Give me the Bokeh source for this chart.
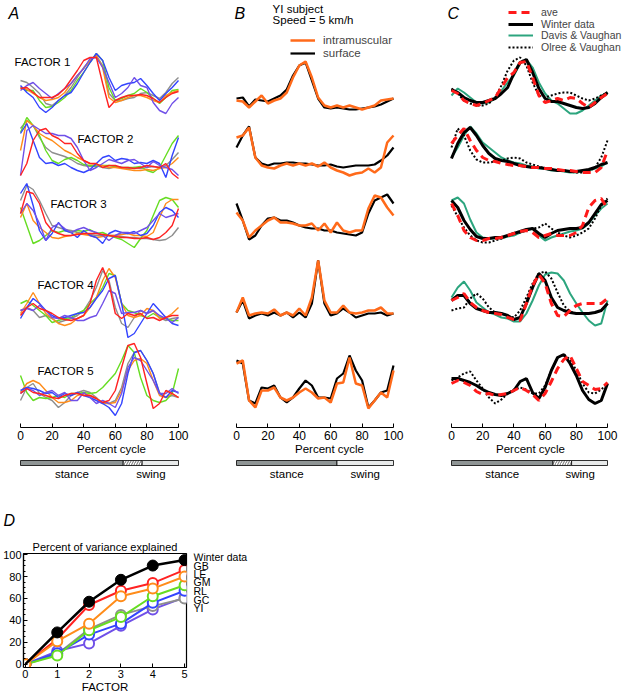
from bokeh.plotting import figure
from bokeh.layouts import row, column
from bokeh.models import Range1d, Label, Legend, LegendItem, FixedTicker, ColumnDataSource
from bokeh.embed import file_html
from bokeh.resources import INLINE

FONT = "Liberation Sans"

# ---------------- data ----------------
PCT = [0, 4, 8, 12, 16, 20, 24, 28, 32, 36, 40, 44, 48, 52, 56, 60, 64, 68, 72, 76, 80, 84, 88, 92, 96, 100]
PCT_TICKS = [0, 20, 40, 60, 80, 100]
SUBJECTS = ["GC", "GM", "LE", "RL", "YI", "GB"]

# Panel A: individual subjects (activation, arbitrary height units)
A_FACTOR1 = {
    "GB": [337, 338, 333, 328, 328, 328, 331, 337, 346, 355, 365, 368, 368, 342, 318, 325, 328, 330, 330, 331, 330, 327, 323, 328, 332, 334],
    "LE": [338, 336, 332, 328, 325, 326, 328, 333, 342, 350, 357, 365, 370, 358, 328, 323, 325, 328, 330, 330, 328, 325, 323, 330, 333, 335],
    "GM": [338, 335, 335, 325, 318, 319, 323, 328, 335, 345, 353, 363, 372, 365, 338, 325, 327, 330, 332, 337, 333, 327, 322, 328, 335, 336],
    "GC": [345, 343, 338, 332, 322, 320, 325, 330, 338, 348, 358, 365, 370, 360, 332, 325, 325, 327, 328, 332, 333, 330, 327, 333, 342, 348],
    "RL": [340, 333, 328, 318, 313, 318, 325, 330, 333, 342, 353, 363, 372, 365, 348, 335, 340, 342, 343, 347, 340, 332, 325, 332, 338, 345],
    "YI": [335, 340, 343, 337, 332, 327, 332, 337, 342, 350, 357, 367, 368, 358, 343, 328, 332, 338, 348, 340, 338, 323, 315, 312, 322, 328],
}
A_FACTOR2 = {
    "GB": [250, 262, 285, 295, 297, 290, 287, 282, 282, 272, 265, 262, 262, 258, 260, 260, 258, 258, 257, 258, 260, 259, 258, 262, 252, 247],
    "LE": [275, 305, 300, 292, 288, 285, 280, 275, 272, 268, 265, 262, 261, 260, 258, 258, 257, 256, 255, 255, 256, 255, 257, 258, 262, 268],
    "GM": [293, 308, 300, 290, 275, 265, 262, 266, 268, 265, 261, 260, 259, 260, 260, 259, 258, 258, 258, 259, 255, 253, 258, 270, 282, 290],
    "GC": [297, 305, 300, 288, 278, 273, 271, 269, 266, 262, 260, 259, 260, 258, 257, 259, 258, 257, 258, 257, 258, 259, 258, 260, 266, 273],
    "RL": [292, 302, 285, 268, 262, 263, 260, 262, 258, 255, 253, 256, 262, 268, 270, 265, 267, 266, 262, 263, 262, 265, 262, 248, 270, 288],
    "YI": [250, 295, 300, 296, 292, 292, 290, 290, 287, 278, 265, 255, 258, 262, 266, 264, 262, 265, 266, 262, 258, 264, 260, 258, 256, 250],
}
A_FACTOR3 = {
    "GB": [212, 234, 232, 222, 203, 195, 192, 190, 190, 191, 192, 192, 192, 191, 190, 189, 188, 188, 187, 187, 188, 186, 188, 193, 200, 217],
    "LE": [208, 222, 205, 198, 193, 188, 187, 189, 190, 192, 191, 190, 188, 189, 190, 190, 191, 192, 190, 190, 189, 193, 208, 222, 226, 226],
    "GM": [218, 200, 182, 185, 190, 195, 193, 195, 193, 195, 194, 196, 192, 193, 190, 188, 186, 182, 178, 187, 195, 210, 225, 228, 226, 218],
    "GC": [225, 240, 236, 225, 212, 200, 198, 196, 195, 193, 192, 191, 190, 190, 190, 190, 189, 188, 188, 187, 187, 186, 185, 186, 190, 198],
    "RL": [232, 242, 220, 195, 185, 192, 203, 195, 193, 188, 195, 190, 188, 182, 192, 195, 193, 192, 194, 190, 192, 200, 213, 218, 215, 208],
    "YI": [212, 222, 215, 202, 185, 198, 202, 197, 193, 196, 198, 195, 193, 190, 185, 190, 193, 193, 192, 195, 198, 205, 212, 208, 210, 212],
}
A_FACTOR4 = {
    "GB": [110, 118, 122, 117, 115, 112, 108, 106, 105, 107, 110, 122, 145, 158, 142, 112, 107, 112, 110, 112, 107, 108, 105, 108, 110, 110],
    "LE": [112, 122, 133, 122, 112, 107, 102, 100, 102, 107, 110, 118, 128, 145, 157, 148, 122, 110, 108, 110, 117, 115, 107, 108, 112, 118],
    "GM": [122, 125, 120, 115, 110, 103, 105, 107, 108, 112, 115, 122, 128, 138, 152, 150, 122, 115, 113, 110, 108, 112, 108, 107, 105, 105],
    "GC": [115, 118, 115, 108, 110, 107, 103, 105, 107, 110, 115, 125, 138, 155, 145, 118, 102, 98, 108, 115, 112, 115, 108, 105, 107, 108],
    "RL": [107, 118, 127, 122, 115, 110, 107, 108, 110, 112, 113, 118, 127, 135, 147, 150, 122, 88, 92, 102, 112, 122, 115, 108, 102, 100],
    "YI": [115, 117, 115, 120, 115, 108, 107, 110, 108, 105, 105, 108, 110, 122, 135, 132, 112, 113, 113, 115, 112, 115, 110, 107, 103, 108],
}
A_FACTOR5 = {
    "GB": [32, 37, 33, 32, 30, 28, 27, 30, 32, 32, 30, 30, 27, 23, 25, 35, 58, 80, 82, 68, 42, 17, 22, 35, 32, 28],
    "LE": [33, 42, 45, 42, 35, 28, 23, 23, 25, 30, 32, 30, 27, 23, 22, 23, 35, 55, 65, 67, 62, 45, 30, 28, 32, 28],
    "GM": [50, 33, 25, 28, 27, 28, 30, 28, 32, 32, 33, 32, 33, 38, 45, 52, 65, 80, 73, 48, 30, 25, 23, 25, 32, 57],
    "GC": [25, 38, 42, 32, 28, 25, 18, 23, 30, 33, 35, 33, 28, 22, 22, 25, 38, 62, 73, 75, 65, 52, 33, 28, 30, 28],
    "RL": [35, 38, 37, 35, 32, 33, 28, 32, 30, 33, 30, 28, 25, 22, 18, 10, 22, 52, 73, 75, 65, 52, 32, 28, 35, 33],
    "YI": [32, 37, 35, 30, 33, 35, 30, 33, 25, 25, 33, 28, 22, 25, 22, 18, 32, 58, 68, 65, 55, 45, 32, 32, 37, 32],
}

# Panel B: YI subject, intramuscular vs surface
B_FACTOR1 = {
    "surface":       [327, 328, 319, 326, 325, 324, 327, 330, 336, 350, 360, 363, 345, 327, 318, 317, 318, 317, 316, 316, 317, 318, 319, 321, 324, 327],
    "intramuscular": [325, 324, 318, 324, 330, 322, 325, 327, 333, 348, 360, 364, 348, 328, 320, 318, 320, 318, 320, 318, 316, 318, 320, 325, 326, 327],
}
B_FACTOR2 = {
    "surface":       [278, 290, 299, 268, 262, 260, 262, 262, 263, 263, 262, 262, 261, 260, 260, 261, 259, 258, 259, 260, 260, 260, 261, 265, 270, 278],
    "intramuscular": [288, 290, 298, 268, 260, 258, 257, 260, 262, 260, 262, 260, 262, 259, 263, 258, 255, 253, 250, 252, 253, 257, 253, 258, 283, 290],
}
B_FACTOR3 = {
    "surface":       [222, 205, 186, 190, 200, 207, 208, 205, 205, 203, 200, 198, 197, 197, 195, 195, 193, 192, 191, 190, 193, 212, 225, 228, 231, 222],
    "intramuscular": [213, 205, 188, 195, 200, 205, 208, 203, 203, 202, 200, 200, 202, 195, 202, 193, 203, 195, 193, 195, 195, 217, 230, 228, 218, 210],
}
B_FACTOR4 = {
    "surface":       [113, 125, 107, 110, 112, 110, 113, 110, 113, 108, 113, 108, 122, 165, 122, 110, 112, 117, 113, 108, 110, 112, 112, 113, 110, 112],
    "intramuscular": [113, 128, 110, 112, 113, 112, 116, 110, 113, 110, 117, 110, 128, 165, 125, 113, 113, 120, 113, 112, 113, 115, 115, 118, 112, 112],
}
B_FACTOR5 = {
    "surface":       [65, 62, 25, 22, 38, 37, 40, 28, 23, 28, 37, 45, 40, 28, 28, 27, 47, 52, 70, 55, 45, 18, 25, 33, 35, 60],
    "intramuscular": [62, 65, 25, 18, 35, 35, 38, 28, 25, 28, 33, 37, 33, 27, 28, 23, 42, 43, 68, 42, 40, 17, 25, 33, 28, 55],
}

# Panel C: average vs literature
C_FACTOR1 = {
    "ave":             [335, 332, 325, 322, 320, 322, 325, 328, 338, 348, 353, 363, 364, 348, 330, 323, 325, 327, 325, 328, 327, 322, 318, 323, 328, 332],
    "Winter data":     [336, 333, 328, 325, 323, 323, 325, 327, 332, 338, 352, 363, 366, 353, 337, 327, 324, 324, 322, 320, 318, 317, 318, 322, 328, 333],
    "Davis & Vaughan": [330, 337, 333, 328, 323, 322, 323, 327, 335, 343, 350, 362, 366, 358, 343, 332, 325, 322, 317, 312, 312, 315, 320, 325, 330, 332],
    "Olree & Vaughan": [337, 332, 325, 322, 320, 320, 322, 328, 340, 355, 365, 368, 360, 343, 330, 328, 330, 332, 333, 333, 330, 327, 325, 327, 330, 333],
}
C_FACTOR2 = {
    "ave":             [282, 290, 297, 285, 275, 268, 265, 264, 262, 261, 260, 260, 259, 258, 258, 257, 257, 256, 255, 255, 254, 253, 253, 253, 258, 275],
    "Winter data":     [267, 282, 293, 298, 290, 280, 272, 267, 265, 264, 262, 260, 259, 258, 258, 257, 256, 255, 255, 254, 254, 255, 256, 258, 261, 263],
    "Davis & Vaughan": [268, 278, 290, 299, 292, 283, 278, 273, 268, 265, 263, 262, 260, 259, 257, 257, 255, 255, 254, 253, 253, 254, 255, 257, 259, 263],
    "Olree & Vaughan": [278, 297, 290, 275, 266, 263, 263, 264, 265, 267, 268, 267, 263, 261, 259, 257, 256, 255, 255, 254, 253, 253, 254, 258, 268, 285],
}
C_FACTOR3 = {
    "ave":             [222, 210, 195, 188, 185, 185, 187, 187, 188, 190, 192, 194, 195, 193, 188, 190, 192, 190, 190, 190, 193, 200, 218, 225, 227, 217],
    "Winter data":     [225, 218, 205, 196, 189, 187, 187, 188, 188, 190, 192, 194, 196, 197, 192, 188, 192, 195, 196, 197, 197, 198, 203, 212, 221, 225],
    "Davis & Vaughan": [225, 228, 222, 206, 193, 188, 187, 187, 187, 189, 190, 193, 195, 197, 190, 185, 188, 190, 192, 194, 195, 197, 202, 210, 217, 222],
    "Olree & Vaughan": [220, 209, 198, 190, 185, 183, 183, 185, 187, 190, 192, 193, 195, 197, 198, 202, 197, 193, 190, 188, 190, 193, 197, 207, 220, 227],
}
C_FACTOR4 = {
    "ave":             [125, 128, 132, 123, 118, 115, 113, 112, 111, 108, 106, 105, 122, 140, 151, 142, 122, 110, 109, 115, 120, 122, 122, 122, 122, 127],
    "Winter data":     [125, 130, 130, 122, 117, 115, 113, 113, 112, 110, 106, 108, 122, 138, 152, 145, 128, 118, 115, 113, 112, 112, 112, 113, 115, 122],
    "Davis & Vaughan": [128, 138, 144, 135, 123, 118, 113, 111, 108, 107, 104, 104, 112, 125, 140, 151, 153, 152, 145, 132, 122, 113, 105, 100, 102, 125],
    "Olree & Vaughan": [115, 117, 118, 127, 132, 127, 118, 113, 112, 110, 108, 115, 128, 142, 152, 154, 147, 133, 120, 114, 112, 112, 112, 113, 115, 122],
}
C_FACTOR5 = {
    "ave":             [42, 45, 43, 40, 34, 31, 32, 30, 31, 32, 35, 38, 35, 31, 25, 32, 44, 57, 66, 70, 57, 44, 40, 36, 37, 43],
    "Winter data":     [47, 47, 45, 43, 40, 36, 33, 31, 30, 32, 35, 44, 47, 33, 27, 38, 55, 68, 71, 62, 50, 35, 26, 22, 25, 42],
    "Olree & Vaughan": [45, 48, 52, 54, 45, 37, 28, 22, 26, 32, 36, 38, 36, 32, 32, 40, 55, 68, 71, 66, 55, 42, 33, 32, 36, 42],
}

FACTOR_NAMES = ["FACTOR 1", "FACTOR 2", "FACTOR 3", "FACTOR 4", "FACTOR 5"]

# gait phases (percent cycle)
PHASES_AC = [0, 65, 77, 100]
PHASE_KINDS_AC = ["stance", "transition", "swing"]
PHASES_B = [0, 64, 100]
PHASE_KINDS_B = ["stance", "swing"]

# Panel D: percent of variance explained
FACTORS = [0, 1, 2, 3, 4, 5]
VAR_WINTER = [0, 29, 57, 77, 90, 95]
VAR_GB = [0, 23, 54, 67, 74, 86]
VAR_LE = [0, 21, 37, 62, 69, 80]
VAR_GM = [0, 8, 31, 43, 62, 72]
VAR_RL = [0, 10, 27, 37, 56, 67]
VAR_GC = [0, 9, 32, 45, 53, 60]
VAR_YI = [0, 12, 19, 35, 50, 61]
D_LABELS = ["Winter data", "GB", "LE", "GM", "RL", "GC", "YI"]

# ---------------- styles / geometry ----------------
SUBJ_COLORS = {"GB": "#ff2222", "LE": "#ff8c1a", "GM": "#66dd22", "GC": "#8e8e8e",
               "RL": "#3344ff", "YI": "#7050e8"}
B_STYLE = {"surface": dict(line_color="black", line_width=2.2),
           "intramuscular": dict(line_color="#ff6a1a", line_width=2.5)}
C_STYLE = {"Davis & Vaughan": dict(line_color="#2ca57e", line_width=2),
           "Olree & Vaughan": dict(line_color="black", line_width=2, line_dash="2 2"),
           "Winter data": dict(line_color="black", line_width=3),
           "ave": dict(line_color="#ff1a1a", line_width=3, line_dash="8 5")}
PHASE_COLORS = {"stance": "#8f9595", "transition": "white", "swing": "#e8eaea"}
PHASE_HATCH = {"stance": " ", "transition": "/", "swing": " "}

# column widths and the pixel gaps left/right of the 0-100 % axis
COLS = {"A": (222, 20, 44), "B": (214, 14, 43), "C": (188, 15, 17)}
CURVE_H = 422          # height of the curve canvas
Y_TOP = 425            # activation value at the top edge of the curve canvas
AXIS_H, AXIS_BOTTOM = 36, 31
BAR_H = 22


def x_range_for(key):
    w, l, r = COLS[key]
    fw = w - l - r
    return Range1d(-l * 100.0 / fw, 100 + r * 100.0 / fw)


XR = {k: x_range_for(k) for k in COLS}


def clean(p):
    p.xgrid.visible = False
    p.ygrid.visible = False
    p.outline_line_color = None
    p.background_fill_color = "white"
    p.border_fill_color = "white"
    return p


def label(p, x, y, text, size="11px", style="normal", align="left"):
    p.add_layout(Label(x=x, y=y, text=text, text_font=FONT, text_font_size=size,
                       text_font_style=style, text_align=align, text_baseline="middle",
                       text_color="black"))


def bare_fig(key, height, y_range, **kw):
    w = COLS[key][0]
    opts = dict(min_border_left=0, min_border_right=0, min_border_top=0, min_border_bottom=0)
    opts.update(kw)
    p = figure(width=w, height=height, x_range=XR[key], y_range=y_range,
               y_axis_type=None, output_backend="svg", toolbar_location=None, **opts)
    return clean(p)


def curve_fig(key):
    p = bare_fig(key, CURVE_H, Range1d(Y_TOP - CURVE_H, Y_TOP))
    p.xaxis.visible = False
    return p


def axis_fig(key):
    p = bare_fig(key, AXIS_H, Range1d(0, 1), min_border_bottom=AXIS_BOTTOM)
    ax = p.xaxis[0]
    ax.bounds = (0, 100)
    ax.ticker = FixedTicker(ticks=PCT_TICKS)
    ax.minor_tick_line_color = None
    ax.major_tick_in = 4
    ax.major_tick_out = 0
    ax.major_label_standoff = 3
    ax.major_label_text_font = FONT
    ax.major_label_text_font_size = "12px"
    ax.major_label_text_color = "black"
    ax.axis_label = "Percent cycle"
    ax.axis_label_standoff = 0
    ax.axis_label_text_font = FONT
    ax.axis_label_text_font_size = "11.5px"
    ax.axis_label_text_font_style = "normal"
    ax.axis_label_text_color = "black"
    return p


def phase_fig(key, edges, kinds):
    p = bare_fig(key, BAR_H, Range1d(-3, 1.4))
    p.xaxis.visible = False
    src = ColumnDataSource(dict(left=edges[:-1], right=edges[1:],
                                fill=[PHASE_COLORS[k] for k in kinds],
                                hatch=[PHASE_HATCH[k] for k in kinds]))
    p.quad(left="left", right="right", bottom=0, top=1, source=src, fill_color="fill",
           line_color="black", line_width=0.8, hatch_pattern="hatch", hatch_color="#8a8a8a",
           hatch_scale=5, hatch_weight=1.2)
    label(p, (edges[0] + edges[1]) / 2, -1.6, "stance", size="11.5px", align="center")
    label(p, (edges[1] + edges[-1]) / 2, -1.6, "swing", size="11.5px", align="center")
    return p


def legend_row(p, renderer, text, x, y_center, glyph_h, size):
    # one legend entry per row so that rows sit as in the original figure
    leg = Legend(items=[LegendItem(label=text, renderers=[renderer])],
                 location=(x, CURVE_H - (y_center + 7)), padding=0, spacing=0, margin=0,
                 border_line_color=None, background_fill_alpha=0, glyph_width=25,
                 glyph_height=glyph_h, label_height=glyph_h, label_standoff=8,
                 label_text_font=FONT, label_text_font_size=size)
    p.add_layout(leg)


# ---------------- panel A ----------------
pA = curve_fig("A")
for fac in [A_FACTOR1, A_FACTOR2, A_FACTOR3, A_FACTOR4, A_FACTOR5]:
    for s in SUBJECTS:
        pA.line(PCT, fac[s], line_color=SUBJ_COLORS[s], line_width=1.4)
label(pA, -7.6, 412, "A", size="16px", style="italic")
for name, (x, y) in zip(FACTOR_NAMES, [(-3.8, 364), (36, 287), (19, 222), (10.8, 141), (10.8, 55)]):
    label(pA, x, y, name, size="11.5px")

# ---------------- panel B ----------------
pB = curve_fig("B")
b_items = {}
for fac in [B_FACTOR1, B_FACTOR2, B_FACTOR3, B_FACTOR4, B_FACTOR5]:
    for k in ["surface", "intramuscular"]:
        r = pB.line(PCT, fac[k], **B_STYLE[k])
        b_items.setdefault(k, r)
label(pB, -1.3, 412, "B", size="16px", style="italic")
label(pB, 23, 417, "YI subject", size="11.5px")
label(pB, 23, 406, "Speed = 5 km/h", size="11.5px")
legend_row(pB, b_items["intramuscular"], "intramuscular", 68, 39, 12, "11.5px")
legend_row(pB, b_items["surface"], "surface", 68, 52, 12, "11.5px")

# ---------------- panel C ----------------
pC = curve_fig("C")
c_items = {}
for fac in [C_FACTOR1, C_FACTOR2, C_FACTOR3, C_FACTOR4, C_FACTOR5]:
    for k in ["Davis & Vaughan", "Olree & Vaughan", "Winter data", "ave"]:
        if k in fac:
            r = pC.line(PCT, fac[k], **C_STYLE[k])
            c_items.setdefault(k, r)
label(pC, -2.6, 412, "C", size="16px", style="italic")
for k, yc in zip(["ave", "Winter data", "Davis & Vaughan", "Olree & Vaughan"], [11, 22.5, 34, 45.5]):
    legend_row(pC, c_items[k], k, 72, yc, 10, "10.5px")

colA = column(pA, axis_fig("A"), phase_fig("A", PHASES_AC, PHASE_KINDS_AC))
colB = column(pB, axis_fig("B"), phase_fig("B", PHASES_B, PHASE_KINDS_B))
colC = column(pC, axis_fig("C"), phase_fig("C", PHASES_AC, PHASE_KINDS_AC))

# ---------------- panel D ----------------
D_W, D_H = 192, 159
D_TOP, D_BOTTOM, D_LEFT, D_RIGHT = 17, 28, 21, 6
pD = figure(width=D_W, height=D_H, x_range=Range1d(-0.06, 5.06), y_range=Range1d(-3, 101),
            output_backend="svg", toolbar_location=None, title="Percent of variance explained",
            min_border_left=D_LEFT, min_border_right=D_RIGHT, min_border_top=D_TOP,
            min_border_bottom=D_BOTTOM)
pD.xgrid.visible = False
pD.ygrid.visible = False
pD.outline_line_color = "black"
pD.outline_line_width = 1.2
pD.title.text_font = FONT
pD.title.text_font_size = "11px"
pD.title.text_font_style = "normal"
pD.title.text_color = "black"
pD.title.align = "center"
pD.title.standoff = 1
for ax in [pD.xaxis[0], pD.yaxis[0]]:
    ax.major_tick_in = 4
    ax.major_tick_out = 0
    ax.minor_tick_in = 2
    ax.minor_tick_out = 0
    ax.major_label_standoff = 2
    ax.major_label_text_font = FONT
    ax.major_label_text_font_size = "11px"
    ax.major_label_text_color = "black"
    ax.axis_line_width = 1.2
    ax.axis_label_text_font = FONT
    ax.axis_label_text_font_size = "11.5px"
    ax.axis_label_text_font_style = "normal"
    ax.axis_label_text_color = "black"
    ax.axis_label_standoff = 0
pD.xaxis[0].ticker = FixedTicker(ticks=FACTORS)
pD.xaxis[0].axis_label = "FACTOR"
pD.yaxis[0].ticker = FixedTicker(ticks=[0, 20, 40, 60, 80, 100],
                                 minor_ticks=[5, 10, 15, 25, 30, 35, 45, 50, 55, 65, 70, 75, 85, 90, 95])

for vals, s in [(VAR_YI, "YI"), (VAR_GC, "GC"), (VAR_RL, "RL"), (VAR_GM, "GM"), (VAR_GB, "GB"), (VAR_LE, "LE")]:
    c = SUBJ_COLORS[s]
    pD.line(FACTORS, vals, line_color=c, line_width=2)
    pD.scatter(FACTORS, vals, marker="circle", size=10, fill_color="white", line_color=c, line_width=2)
pD.line(FACTORS, VAR_WINTER, line_color="black", line_width=2.5)
pD.scatter(FACTORS[1:], VAR_WINTER[1:], marker="circle", size=11, fill_color="black", line_color="black")

# right-hand name column, sharing pD's vertical scale
labD = figure(width=70, height=D_H, x_range=Range1d(0, 70), y_range=pD.y_range,
              x_axis_type=None, y_axis_type=None, output_backend="svg", toolbar_location=None,
              min_border_left=0, min_border_right=0, min_border_top=D_TOP, min_border_bottom=D_BOTTOM)
clean(labD)
for name, y in zip(D_LABELS, [97.8, 90, 82.3, 74.6, 66.8, 59, 51.3]):
    label(labD, 1, y, name, size="10.5px")

headD = figure(width=D_W + 70, height=56, x_range=Range1d(0, 262), y_range=Range1d(0, 56),
               x_axis_type=None, y_axis_type=None, output_backend="svg", toolbar_location=None,
               min_border_left=0, min_border_right=0, min_border_top=0, min_border_bottom=0)
clean(headD)
label(headD, 3, 16, "D", size="16px", style="italic")

layout = column(row(colA, colB, colC), column(headD, row(pD, labD)))

open("out.html", "w").write(file_html(layout, INLINE))
